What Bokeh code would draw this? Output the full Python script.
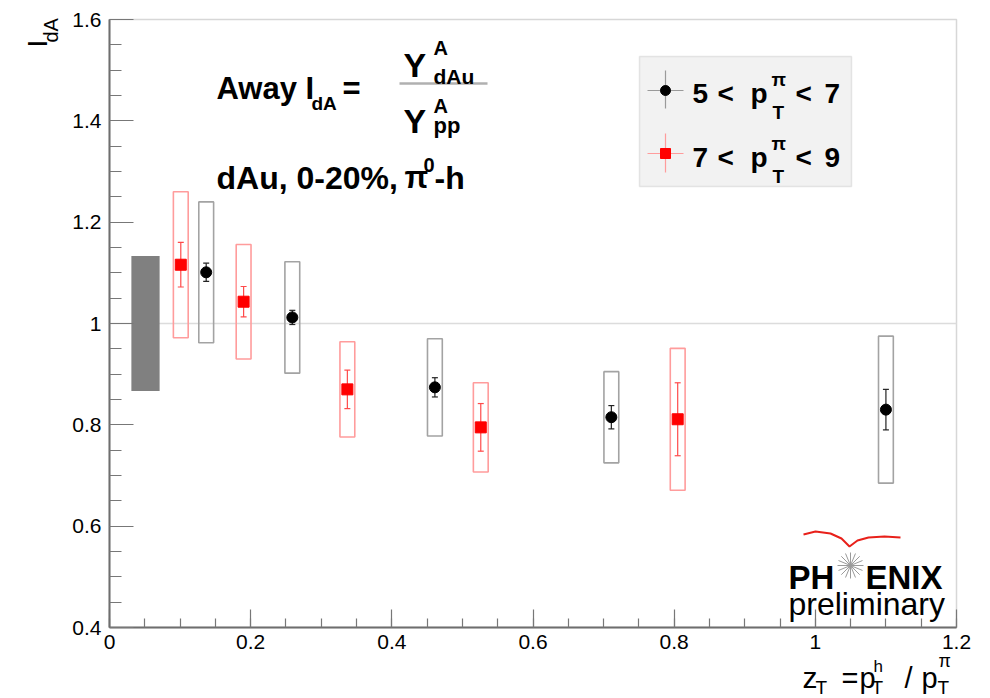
import math
from bokeh.plotting import figure
from bokeh.models import (Range1d, FixedTicker, CustomJSTickFormatter,
                          BoxAnnotation, Label, ColumnDataSource)
from bokeh.embed import file_html
from bokeh.resources import INLINE

# ---------------- data ----------------
# 5 < pT(pi) < 7  (black circles)
black_x = [0.137, 0.259, 0.461, 0.711, 1.100]
black_y = [1.101, 1.012, 0.874, 0.815, 0.830]
black_stat = [0.018, 0.014, 0.019, 0.023, 0.040]
black_sys = [0.139, 0.110, 0.096, 0.090, 0.145]

# 7 < pT(pi) < 9  (red squares)
red_x = [0.101, 0.190, 0.337, 0.526, 0.805]
red_y = [1.116, 1.043, 0.870, 0.795, 0.811]
red_stat = [0.044, 0.030, 0.038, 0.047, 0.072]
red_sys = [0.144, 0.113, 0.094, 0.088, 0.140]

# global normalisation uncertainty (grey box around 1)
norm_x = [0.031, 0.071]
norm_center = 1.0
norm_err = 0.133

sys_half_width = 0.0105

x_ticks = [0.0, 0.2, 0.4, 0.6, 0.8, 1.0, 1.2]
y_ticks = [0.4, 0.6, 0.8, 1.0, 1.2, 1.4, 1.6]
x_minor = [round(0.05 * i, 2) for i in range(25)]
y_minor = [round(0.4 + 0.05 * i, 2) for i in range(25)]

# ---------------- figure ----------------
X0, X1, Y0, Y1 = 0.0, 1.2, 0.4, 1.6
W, H = 990, 698
# pixel position of the axis box inside the canvas
PL, PR, PT, PB = 109, 956, 19, 627


def X(px):
    return X0 + (px - PL) / (PR - PL) * (X1 - X0)


def Y(py):
    return Y1 - (py - PT) / (PB - PT) * (Y1 - Y0)


# the frame fills the whole canvas; the axes sit at fixed data locations
p = figure(width=W, height=H, x_range=Range1d(X(0), X(W)), y_range=Range1d(Y(H), Y(0)),
           output_backend="svg", toolbar_location=None,
           min_border=0, min_border_left=0, min_border_right=0,
           min_border_top=0, min_border_bottom=0)
p.xgrid.visible = False
p.ygrid.visible = False
p.background_fill_color = "white"
p.border_fill_color = "white"
p.outline_line_color = None

fmt = CustomJSTickFormatter(code="return String(parseFloat(tick.toFixed(2)));")
for ax, ticks, minor, tin, mtin, loc, bnd in (
        (p.xaxis[0], x_ticks, x_minor, 18, 9, Y0, (X0, X1)),
        (p.yaxis[0], y_ticks, y_minor, 24, 12, X0, (Y0, Y1))):
    ax.fixed_location = loc
    ax.bounds = bnd
    ax.ticker = FixedTicker(ticks=ticks, minor_ticks=minor)
    ax.formatter = fmt
    ax.axis_line_color = "#6e6e6e"
    ax.axis_line_width = 2
    ax.major_tick_in = tin
    ax.major_tick_out = 0
    ax.minor_tick_in = mtin
    ax.minor_tick_out = 0
    ax.major_tick_line_color = "#777777"
    ax.minor_tick_line_color = "#777777"
    ax.major_tick_line_width = 1.2
    ax.minor_tick_line_width = 1.2
    ax.major_label_text_font = "Liberation Sans"
    ax.major_label_text_font_size = "21px"
    ax.major_label_text_color = "black"
p.yaxis[0].major_label_standoff = 8
p.xaxis[0].major_label_standoff = 7

# box around the axis region (top and right edges)
p.add_layout(BoxAnnotation(left=X0, right=X1, bottom=Y0, top=Y1, fill_alpha=0,
                           line_color="#7a7a7a", line_width=1.5, level="underlay"))

# reference line at 1
p.segment(x0=[X0], y0=[norm_center], x1=[X1], y1=[norm_center],
          line_color="#dcdcdc", line_width=1.5)

# normalisation box
p.quad(left=[norm_x[0]], right=[norm_x[1]], bottom=[norm_center - norm_err],
       top=[norm_center + norm_err], fill_color="#808080", line_color=None)


def series(xs, ys, stat, sys, box_color, bar_color, marker, msize, mcolor):
    src = ColumnDataSource(dict(
        x=xs, y=ys,
        left=[v - sys_half_width for v in xs], right=[v + sys_half_width for v in xs],
        top=[a + b for a, b in zip(ys, sys)], bottom=[a - b for a, b in zip(ys, sys)],
        hi=[a + b for a, b in zip(ys, stat)], lo=[a - b for a, b in zip(ys, stat)]))
    p.quad(left="left", right="right", top="top", bottom="bottom", source=src,
           fill_alpha=0, line_color=box_color, line_width=1.6)
    p.segment(x0="x", y0="lo", x1="x", y1="hi", source=src, line_color=bar_color, line_width=1.2)
    p.scatter(x="x", y="hi", source=src, marker="dash", size=6, line_color=bar_color, line_width=1.2)
    p.scatter(x="x", y="lo", source=src, marker="dash", size=6, line_color=bar_color, line_width=1.2)
    p.scatter(x="x", y="y", source=src, marker=marker, size=msize,
              fill_color=mcolor, line_color=mcolor)


series(black_x, black_y, black_stat, black_sys, "#a3a3a3", "#222222", "circle", 11, "black")
series(red_x, red_y, red_stat, red_sys, "#ff9c9c", "#ff4a4a", "square", 11, "#ff0000")


# ---------------- texts ----------------
def label(px, py, text, size, bold=False, color="black", angle=0.0, font="Liberation Sans"):
    p.add_layout(Label(x=X(px), y=Y(py), text=text, text_font=font,
                       text_font_size=f"{size}px",
                       text_font_style="bold" if bold else "normal",
                       text_color=color, text_align="left",
                       text_baseline="alphabetic", angle=angle))


# y axis title I_dA (rotated)
label(37, 47, "I", 28, angle=math.pi / 2)
label(50, 42, "dA", 20, angle=math.pi / 2)

# x axis title z_T = p^h_T / p^pi_T
yb = 677
label(802, yb, "z", 30)
label(815, yb + 10, "T", 19)
label(841, yb, "=", 29)
label(859, yb, "p", 29)
label(873, yb - 11, "h", 17)
label(871, yb + 10, "T", 19)
label(904, yb, "/", 29)
label(921, yb, "p", 29)
label(938, yb - 17, "π", 18)
label(937, yb + 10, "T", 19)

# formula
label(216, 88, "Away I", 31, bold=True)
label(311, 103, "dA", 19, bold=True)
label(342, 88, "=", 31, bold=True)
p.segment(x0=[X(399)], y0=[Y(83)], x1=[X(487)], y1=[Y(83)], line_color="#b0b0b0", line_width=2.5)
label(403, 64, "Y", 34, bold=True)
label(433, 47, "A", 20, bold=True)
label(433, 76, "dAu", 21, bold=True)
label(403, 120, "Y", 34, bold=True)
label(433, 105, "A", 20, bold=True)
label(433, 125, "pp", 22, bold=True)

label(216, 177, "dAu, 0-20%, ", 32, bold=True)
label(404, 177, "π", 31, bold=True)
label(423, 164, "0", 20, bold=True)
label(434, 177, "-h", 32, bold=True)

# legend
p.add_layout(BoxAnnotation(left=X(639), right=X(851), top=Y(56), bottom=Y(186),
                           fill_color="#f2f2f2", fill_alpha=1, line_color="#b4b4b4",
                           line_width=1.5, level="underlay"))
for cy, lcol, mk, mcol, lo, hi in ((90, "#9a9a9a", "circle", "black", 70, 108),
                                   (153, "#ff9c9c", "square", "#ff0000", 133, 172)):
    p.segment(x0=[X(647)], y0=[Y(cy)], x1=[X(683)], y1=[Y(cy)], line_color=lcol, line_width=1.2)
    p.segment(x0=[X(665)], y0=[Y(lo)], x1=[X(665)], y1=[Y(hi)], line_color=lcol, line_width=1.2)
    p.scatter(x=[X(665)], y=[Y(cy)], marker=mk, size=10, fill_color=mcol, line_color=mcol)

for base, a, b in ((93, "5", "7"), (157, "7", "9")):
    label(692, base, a, 28, bold=True)
    label(717, base, "<", 28, bold=True)
    label(750, base, "p", 28, bold=True)
    label(771, base - 14, "π", 19, bold=True)
    label(772, base + 19, "T", 19, bold=True)
    label(795, base, "<", 28, bold=True)
    label(824, base, b, 28, bold=True)

# PHENIX preliminary logo
p.line(x=[X(803), X(815), X(830), X(841), X(849), X(857), X(868), X(884), X(900)],
       y=[Y(534), Y(531), Y(533), Y(538), Y(546), Y(540), Y(537), Y(536), Y(537)],
       line_color="#e8201a", line_width=2)
label(788, 577, "PH", 33, bold=True)
for ang in (0.0, math.pi / 8):
    p.scatter(x=[X(850)], y=[Y(565)], marker="asterisk", size=26, angle=ang,
              line_color="#9a9a9a", line_width=1)
label(865, 577, "ENIX", 33, bold=True)
label(788, 603, "preliminary", 32)

open("out.html", "w").write(file_html(p, INLINE))
